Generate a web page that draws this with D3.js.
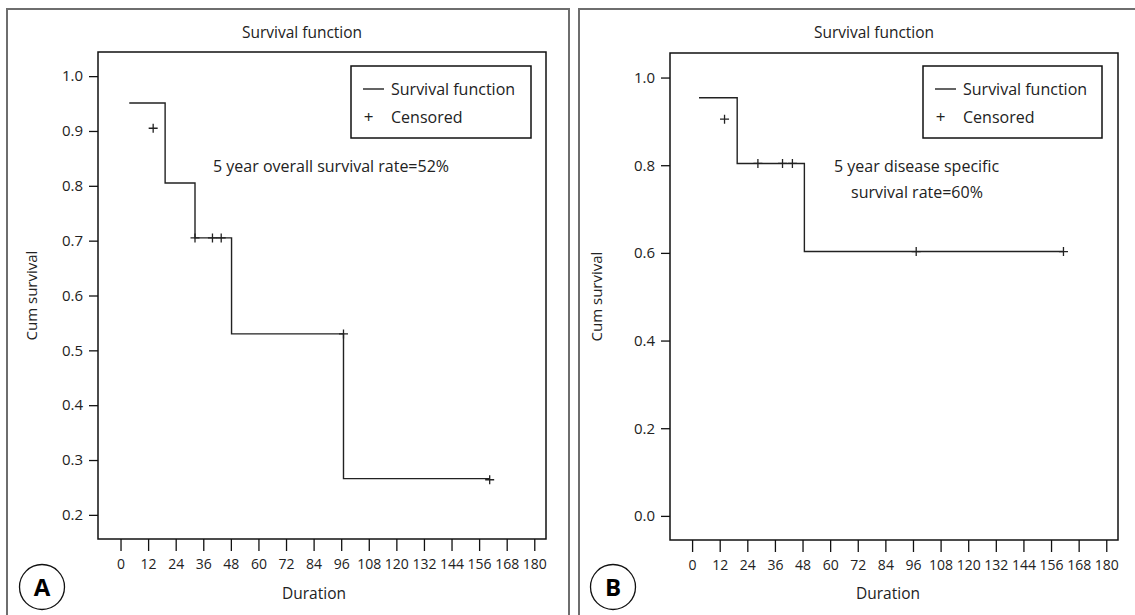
<!DOCTYPE html>
<html>
<head>
<meta charset="utf-8">
<script src="https://cdn.jsdelivr.net/npm/d3@7"></script>
<style>
  body { margin: 0; background: #fff; }
  text { font-family: "Open Sans", "DejaVu Sans", sans-serif; fill: #222; }
</style>
</head>
<body>
<svg id="chart" width="1135" height="615"></svg>
<script>
// ---- data ----
const xTicks = [0, 12, 24, 36, 48, 60, 72, 84, 96, 108, 120, 132, 144, 156, 168, 180];

// panel A : overall survival
const stepTimesA = [3.8, 19.4, 32.4, 48.3, 97, 160.6];
const stepSurvA  = [0.951, 0.805, 0.705, 0.53, 0.266, 0.266];
const censTimesA = [14.2, 32.4, 40, 43.8, 97, 160.6];
const censSurvA  = [0.905, 0.705, 0.705, 0.705, 0.53, 0.264];
const yTicksA = [0.2, 0.3, 0.4, 0.5, 0.6, 0.7, 0.8, 0.9, 1.0];

// panel B : disease specific survival
const stepTimesB = [3, 19.6, 48.8, 161.4];
const stepSurvB  = [0.954, 0.804, 0.603, 0.603];
const censTimesB = [14.1, 28.6, 39.3, 43.6, 97.4, 161.4];
const censSurvB  = [0.905, 0.804, 0.804, 0.804, 0.603, 0.603];
const yTicksB = [0.0, 0.2, 0.4, 0.6, 0.8, 1.0];

const svg = d3.select("#chart");

function drawPanel(cfg) {
    // outer panel border (runs off the picture at bottom / right)
    svg.append("rect")
        .attr("x", cfg.box[0]).attr("y", cfg.box[1])
        .attr("width", cfg.box[2]).attr("height", cfg.box[3])
        .attr("fill", "none").attr("stroke", "#6e6e6e").attr("stroke-width", 2);

    let x = d3.scaleLinear().domain(cfg.xDomain).range([cfg.left, cfg.right]);
    let y = d3.scaleLinear().domain(cfg.yDomain).range([cfg.bottom, cfg.top]);

    // title
    svg.append("text")
        .attr("x", cfg.titleX).attr("y", 33)
        .attr("dy", "0.35em").attr("text-anchor", "middle")
        .attr("font-size", "15.5px").text("Survival function");

    // plot frame
    svg.append("rect")
        .attr("x", cfg.left).attr("y", cfg.top)
        .attr("width", cfg.right - cfg.left).attr("height", cfg.bottom - cfg.top)
        .attr("fill", "none").attr("stroke", "#111").attr("stroke-width", 1.5);

    // y axis
    let gy = svg.append("g")
        .attr("transform", "translate(" + cfg.left + ",0)")
        .call(d3.axisLeft(y).tickValues(cfg.yTicks).tickFormat(d3.format(".1f"))
            .tickSize(9).tickPadding(6));
    gy.select(".domain").remove();
    gy.selectAll("line").attr("stroke", "#111").attr("stroke-width", 1.3);
    gy.selectAll("text").attr("font-size", "15px").attr("fill", "#222")
        .attr("font-family", "'Open Sans', sans-serif");

    // x axis
    let gx = svg.append("g")
        .attr("transform", "translate(0," + cfg.bottom + ")")
        .call(d3.axisBottom(x).tickValues(xTicks).tickSize(12).tickPadding(8));
    gx.select(".domain").remove();
    gx.selectAll("line").attr("stroke", "#111").attr("stroke-width", 1.3);
    gx.selectAll("text").attr("font-size", "14px").attr("fill", "#222")
        .attr("font-family", "'Open Sans', sans-serif")
        .attr("y", 25).attr("dy", "0.35em");

    // axis titles
    svg.append("text")
        .attr("x", cfg.durX).attr("y", 594).attr("dy", "0.35em")
        .attr("text-anchor", "middle").attr("font-size", "15.5px").text("Duration");
    svg.append("text")
        .attr("transform", "translate(" + cfg.cumX + "," + (cfg.top + cfg.bottom) / 2 + ") rotate(-90)")
        .attr("dy", "0.35em").attr("text-anchor", "middle")
        .attr("font-size", "15px").text("Cum survival");

    // survival step curve
    let pts = cfg.times.map((t, i) => [t, cfg.surv[i]]);
    let line = d3.line()
        .x(d => x(d[0])).y(d => y(d[1]))
        .curve(d3.curveStepAfter);
    svg.append("path")
        .datum(pts)
        .attr("d", line)
        .attr("fill", "none").attr("stroke", "#222").attr("stroke-width", 1.4);

    // censored marks
    let cens = cfg.censT.map((t, i) => [t, cfg.censS[i]]);
    svg.selectAll(null)
        .data(cens)
        .enter()
        .append("path")
        .attr("d", d => {
            let cx = x(d[0]), cy = y(d[1]);
            return "M" + (cx - 4.5) + "," + cy + "H" + (cx + 4.5) +
                   "M" + cx + "," + (cy - 4.5) + "V" + (cy + 4.5);
        })
        .attr("stroke", "#222").attr("stroke-width", 1.3);

    // legend
    let lg = cfg.legend;
    svg.append("rect")
        .attr("x", lg[0]).attr("y", 66).attr("width", lg[1]).attr("height", 72)
        .attr("fill", "#fff").attr("stroke", "#111").attr("stroke-width", 1.5);
    svg.append("line")
        .attr("x1", lg[0] + 12).attr("x2", lg[0] + 33)
        .attr("y1", 89).attr("y2", 89)
        .attr("stroke", "#222").attr("stroke-width", 1.4);
    svg.append("text")
        .attr("x", lg[0] + 40).attr("y", 89).attr("dy", "0.35em")
        .attr("font-size", "16px").text("Survival function");
    svg.append("text")
        .attr("x", lg[0] + 17.5).attr("y", 117).attr("dy", "0.35em")
        .attr("text-anchor", "middle").attr("font-size", "17px").text("+");
    svg.append("text")
        .attr("x", lg[0] + 40).attr("y", 117).attr("dy", "0.35em")
        .attr("font-size", "16px").text("Censored");

    // annotation
    cfg.note.forEach(n => {
        svg.append("text")
            .attr("x", n[0]).attr("y", n[1]).attr("dy", "0.35em")
            .attr("font-size", "16px").text(n[2]);
    });

    // panel letter
    svg.append("circle")
        .attr("cx", cfg.letterX).attr("cy", 587).attr("r", 22.5)
        .attr("fill", "none").attr("stroke", "#111").attr("stroke-width", 1.3);
    svg.append("text")
        .attr("x", cfg.letterX).attr("y", 588).attr("dy", "0.35em")
        .attr("text-anchor", "middle").attr("font-size", "24px")
        .attr("font-weight", "bold").style("fill", "#000")
        .attr("font-family", "'Liberation Sans', Arial, sans-serif")
        .text(cfg.letter);
}

drawPanel({
    box: [7, 9, 562, 640],
    left: 98, right: 546, top: 52, bottom: 539,
    xDomain: [-9.8, 185.1], yDomain: [0.156, 1.044],
    yTicks: yTicksA,
    titleX: 302, durX: 314, cumX: 32,
    times: stepTimesA, surv: stepSurvA,
    censT: censTimesA, censS: censSurvA,
    legend: [351, 180],
    note: [[213, 166, "5 year overall survival rate=52%"]],
    letterX: 42, letter: "A"
});

drawPanel({
    box: [579, 9, 600, 640],
    left: 670, right: 1118, top: 53, bottom: 540,
    xDomain: [-9.6, 185.1], yDomain: [-0.055, 1.056],
    yTicks: yTicksB,
    titleX: 874, durX: 888, cumX: 597,
    times: stepTimesB, surv: stepSurvB,
    censT: censTimesB, censS: censSurvB,
    legend: [923, 179],
    note: [[834, 166, "5 year disease specific"], [851, 192, "survival rate=60%"]],
    letterX: 613, letter: "B"
});
</script>
</body>
</html>
